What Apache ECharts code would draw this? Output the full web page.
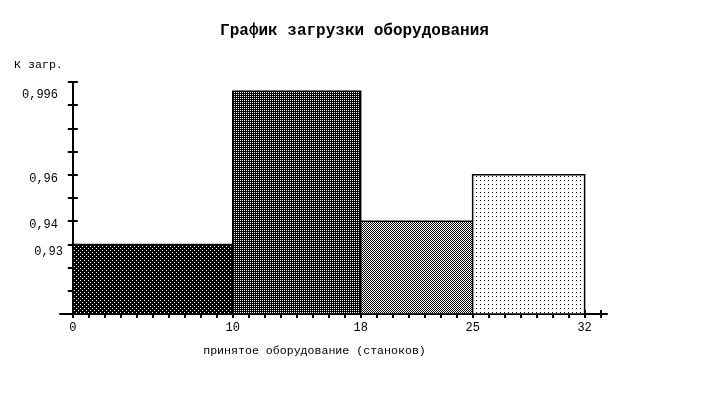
<!DOCTYPE html>
<html>
<head>
<meta charset="utf-8">
<script src="https://cdn.jsdelivr.net/npm/echarts@6/dist/echarts.min.js"></script>
<style>
  html, body { margin: 0; padding: 0; background: #fff; }
  #chart { width: 709px; height: 407px; }
</style>
</head>
<body>
<div id="chart"></div>
<script>
// Interval edges (number of machines) and the load factor of each interval
const intervalEdges = [0, 10, 18, 25, 32];
const loadFactors = [0.93, 0.996, 0.94, 0.96];
// Labelled values on each axis
const yLabelValues = [0.93, 0.94, 0.96, 0.996];
const xLabelValues = [0, 10, 18, 25, 32];

const Y_MIN = 0.9, Y_MAX = 1.0;
const X_MIN = -0.8, X_MAX = 33.4;
const FONT = '"Liberation Mono", "DejaVu Sans Mono", monospace';

// Minor ticks on the x axis, one per machine
const xTickValues = [];
for (let i = 0; i <= 33; i++) xTickValues.push(i);

// Small bitmap tiles used as fill patterns
function tile(size, bg, fg, dots) {
  const c = document.createElement('canvas');
  c.width = size; c.height = size;
  const g = c.getContext('2d');
  g.fillStyle = bg; g.fillRect(0, 0, size, size);
  g.fillStyle = fg;
  dots.forEach(([x, y]) => g.fillRect(x, y, 1, 1));
  return { image: c, repeat: 'repeat' };
}
const fills = [
  tile(4, '#000', '#fff', [[0, 0], [2, 2]]),
  tile(2, '#000', '#fff', [[0, 0]]),
  tile(2, '#fff', '#000', [[0, 0], [1, 1]]),
  tile(4, '#fff', '#000', [[0, 0]])
];

const rows = loadFactors.map((v, i) => [intervalEdges[i], intervalEdges[i + 1], v]);

const fmt = v => {
  const s = String(+v.toFixed(3)).replace('.', ',');
  return v === 0.93 ? '{b|' + s + '}' : '{a|' + s + '}';
};

const lineStyle = { color: '#000', width: 2 };
const tickStyle = { color: '#000', width: 2 };

const chart = echarts.init(document.getElementById('chart'), null, { renderer: 'canvas' });
chart.setOption({
  animation: false,
  backgroundColor: '#fff',
  title: {
    text: 'График загрузки оборудования',
    left: 'center',
    top: 18,
    textStyle: { fontFamily: FONT, fontSize: 16, fontWeight: 'bold', color: '#000' }
  },
  grid: { left: 60, top: 82, width: 547, height: 232, containLabel: false },
  xAxis: [
    {
      type: 'value', min: X_MIN, max: X_MAX, position: 'bottom',
      name: 'принятое оборудование (станоков)',
      nameLocation: 'middle', nameGap: 31,
      nameTextStyle: { fontFamily: FONT, fontSize: 11.6, color: '#000', padding: [0, 38, 0, 0] },
      axisLine: { show: true, lineStyle },
      axisTick: { show: true, inside: false, length: 4, lineStyle: tickStyle, customValues: xTickValues },
      axisLabel: { show: true, customValues: xLabelValues, margin: 8, fontFamily: FONT, fontSize: 12, color: '#000' },
      splitLine: { show: false }
    },
    {
      type: 'value', min: X_MIN, max: X_MAX, position: 'bottom',
      axisLine: { show: false },
      axisTick: { show: true, inside: true, length: 4, lineStyle: tickStyle, customValues: xTickValues },
      axisLabel: { show: false },
      splitLine: { show: false }
    }
  ],
  yAxis: [
    {
      type: 'value', min: Y_MIN, max: Y_MAX, interval: 0.01, position: 'left',
      name: 'К загр.', nameLocation: 'end', nameGap: 17,
      nameTextStyle: { fontFamily: FONT, fontSize: 11.6, color: '#000', align: 'right', verticalAlign: 'middle', padding: [0, 10, 0, 0] },
      axisLine: { show: true, onZero: true, lineStyle },
      axisTick: { show: true, inside: false, length: 5, lineStyle: tickStyle },
      axisLabel: {
        show: true, customValues: yLabelValues, margin: -3, formatter: fmt,
        fontFamily: FONT, fontSize: 12, color: '#000',
        rich: {
          a: { fontFamily: FONT, fontSize: 12, color: '#000', padding: [8, 5, 0, 0] },
          b: { fontFamily: FONT, fontSize: 12, color: '#000', padding: [14, 0, 0, 0] }
        }
      },
      splitLine: { show: false }
    },
    {
      type: 'value', min: Y_MIN, max: Y_MAX, interval: 0.01, position: 'left',
      axisLine: { show: true, onZero: true, lineStyle },
      axisTick: { show: true, inside: true, length: 5, lineStyle: tickStyle },
      axisLabel: { show: false },
      splitLine: { show: false }
    }
  ],
  series: [{
    type: 'custom',
    xAxisIndex: 0, yAxisIndex: 0,
    data: rows,
    encode: { x: [0, 1], y: 2 },
    renderItem(params, api) {
      const top = api.coord([api.value(0), api.value(2)]);
      const bottom = api.coord([api.value(1), Y_MIN]);
      return {
        type: 'rect',
        shape: { x: top[0], y: top[1], width: bottom[0] - top[0], height: bottom[1] - top[1] },
        style: { fill: fills[params.dataIndex], stroke: '#000', lineWidth: 1.5 }
      };
    }
  }]
});
</script>
</body>
</html>
